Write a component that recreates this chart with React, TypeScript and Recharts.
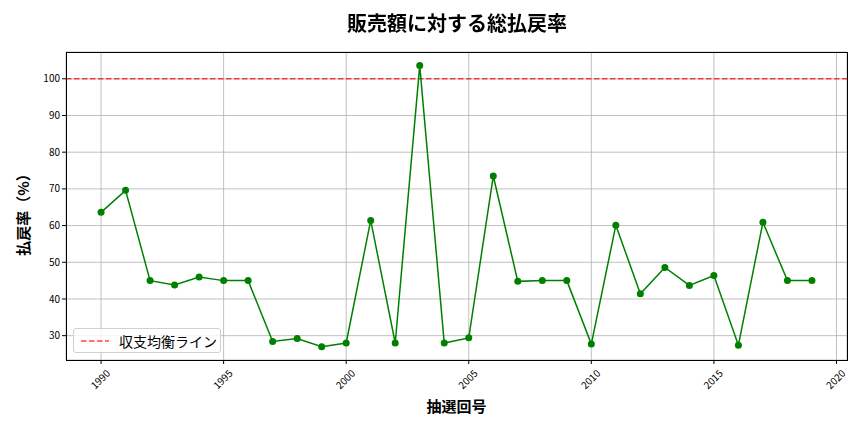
import { CartesianGrid, Line, LineChart, ReferenceLine, XAxis, YAxis } from 'recharts';

const years = [
  1990, 1991, 1992, 1993, 1994, 1995, 1996, 1997, 1998, 1999,
  2000, 2001, 2002, 2003, 2004, 2005, 2006, 2007, 2008, 2009,
  2010, 2011, 2012, 2013, 2014, 2015, 2016, 2017, 2018, 2019,
];
const payoutRates = [
  63.6, 69.6, 45.0, 43.8, 46.0, 45.0, 45.0, 28.4, 29.2, 27.0,
  28.0, 61.4, 28.0, 103.6, 28.0, 29.4, 73.5, 44.8, 45.0, 45.0,
  27.7, 60.1, 41.4, 48.6, 43.7, 46.4, 27.4, 60.9, 45.0, 45.0,
];
const xTicks = [1990, 1995, 2000, 2005, 2010, 2015, 2020];
const yTicks = [30, 40, 50, 60, 70, 80, 90, 100];
const breakEven = 100;

const data = years.map((y, i) => ({ year: y, rate: payoutRates[i] }));

const FONT = '"Noto Sans CJK JP", "Noto Sans", sans-serif';

function XTick(props: any) {
  const { x, y, payload } = props;
  return (
    <text
      transform={`translate(${x},${y + 14}) rotate(-45)`}
      textAnchor="middle"
      dominantBaseline="middle"
      fontSize={10}
      fontFamily={FONT}
      fill="#000"
    >
      {payload.value}
    </text>
  );
}

export default function App() {
  return (
    <div style={{ position: 'fixed', left: 0, top: 0, width: 864, height: 432, background: '#fff', fontFamily: FONT }}>
      <LineChart
        width={864}
        height={432}
        data={data}
        margin={{ top: 52, right: 17, left: 26, bottom: 32 }}
      >
        <CartesianGrid stroke="#b0b0b0" strokeWidth={0.8} />
        <XAxis
          dataKey="year"
          type="number"
          domain={[1988.57, 2020.43]}
          ticks={xTicks}
          allowDataOverflow
          height={40}
          tick={<XTick />}
          tickLine={{ stroke: '#000' }}
          tickSize={4}
          axisLine={false}
          interval={0}
        />
        <YAxis
          type="number"
          domain={[23.37, 107.3]}
          ticks={yTicks}
          allowDataOverflow
          width={40}
          tick={{ fontSize: 10, fill: '#000', fontFamily: FONT }}
          tickLine={{ stroke: '#000' }}
          tickSize={4}
          axisLine={false}
          interval={0}
        />
        <ReferenceLine
          y={breakEven}
          stroke="#ff0000"
          strokeOpacity={0.75}
          strokeWidth={1.5}
          strokeDasharray="5.5 2.5"
        />
        <Line
          type="linear"
          dataKey="rate"
          stroke="#008000"
          strokeWidth={1.5}
          dot={{ r: 3.5, fill: '#008000', stroke: '#008000', strokeWidth: 0 }}
          activeDot={false}
          isAnimationActive={false}
        />
      </LineChart>
      {/* plot frame */}
      <div
        style={{
          position: 'absolute',
          left: 66,
          top: 52,
          width: 782,
          height: 309,
          border: '1px solid #000',
          boxSizing: 'border-box',
          pointerEvents: 'none',
        }}
      />
      <div style={{ position: 'absolute', left: 0, width: 914, top: 9, textAlign: 'center', fontSize: 20, lineHeight: '28px', fontWeight: 'bold' }}>
        販売額に対する総払戻率
      </div>
      <div
        style={{
          position: 'absolute',
          left: 22,
          top: 211,
          transform: 'translate(-50%, -50%) rotate(-90deg)',
          fontSize: 15,
          fontWeight: 'bold',
          whiteSpace: 'nowrap',
        }}
      >
        払戻率（%）
      </div>
      <div style={{ position: 'absolute', left: 66, width: 781, top: 395, textAlign: 'center', fontSize: 15, lineHeight: '22px', fontWeight: 'bold' }}>
        抽選回号
      </div>
      {/* legend */}
      <div
        style={{
          position: 'absolute',
          left: 73,
          top: 328,
          width: 148,
          height: 25,
          background: 'rgba(255,255,255,0.8)',
          border: '1px solid #d0d0d0',
          borderRadius: 3,
          boxSizing: 'border-box',
          display: 'flex',
          alignItems: 'center',
          fontSize: 14,
        }}
      >
        <svg width={40} height={10} style={{ marginLeft: 5 }}>
          <line x1={2} y1={5} x2={30} y2={5} stroke="#ff0000" strokeOpacity={0.75} strokeWidth={1.5} strokeDasharray="5.5 2.5" />
        </svg>
        <span>収支均衡ライン</span>
      </div>
    </div>
  );
}
